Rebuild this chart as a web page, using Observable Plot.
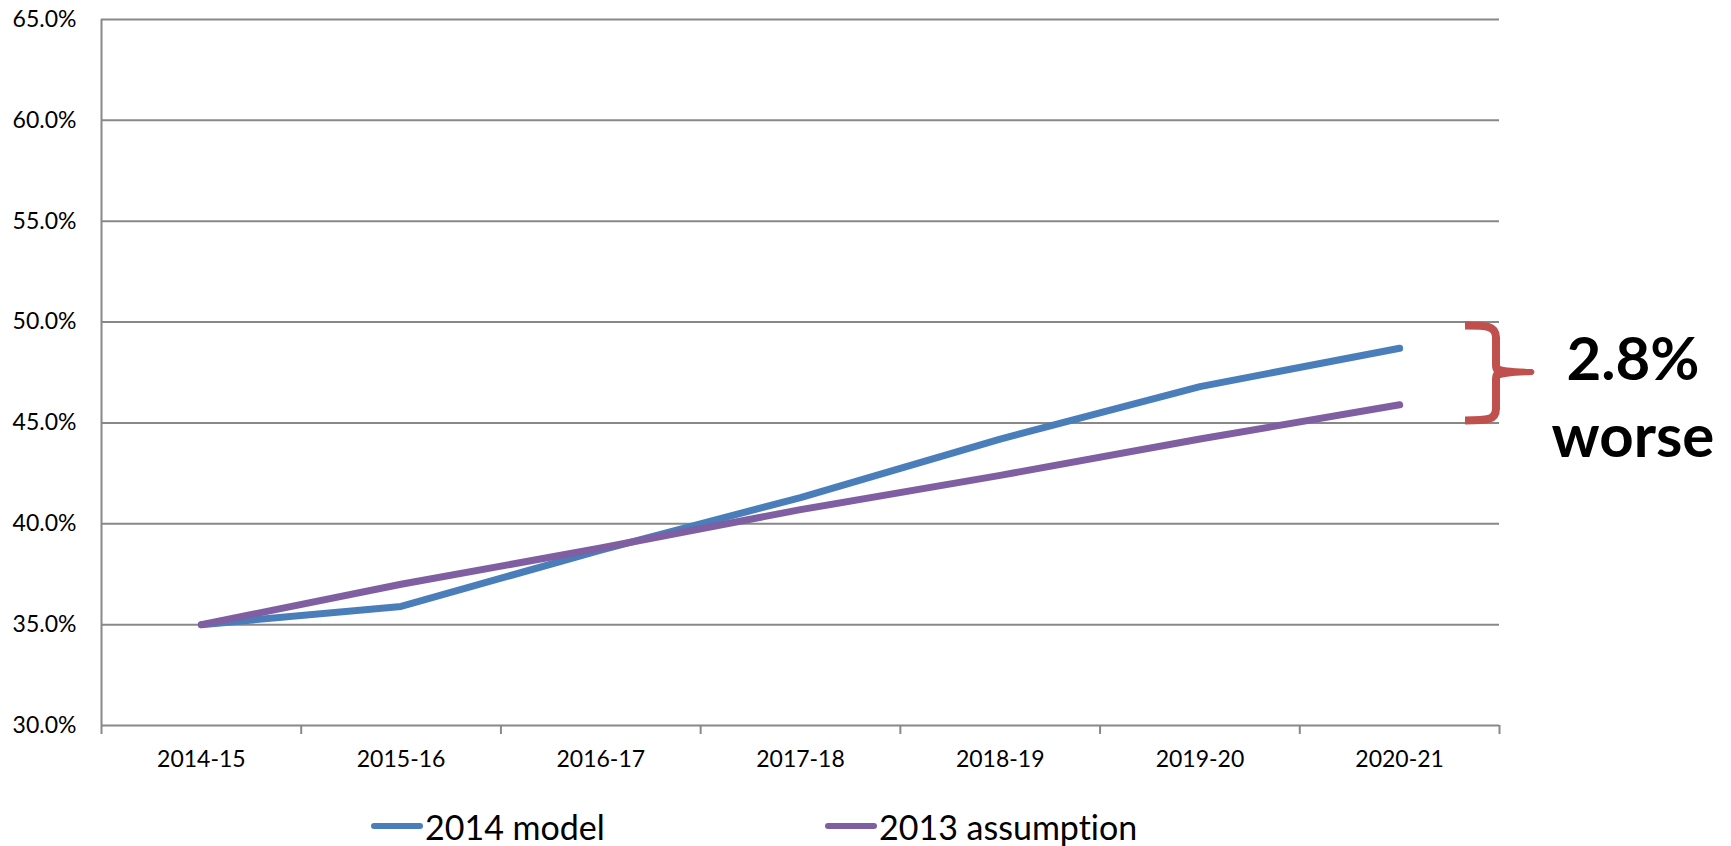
<!DOCTYPE html>
<html>
<head>
<meta charset="utf-8">
<script src="https://cdn.jsdelivr.net/npm/d3@7"></script>
<script src="https://cdn.jsdelivr.net/npm/@observablehq/plot@0.6"></script>
<style>
  html, body { margin: 0; padding: 0; background: #fff; overflow: hidden; }
  #chart { width: 1731px; }
  #legend { position: relative; width: 1731px; height: 56px; font-family: Lato, "Liberation Sans", sans-serif; font-size: 34px; color: #000; font-variant-ligatures: none; }
  .item { position: absolute; top: 8px; height: 56px; display: flex; align-items: center; }
  .swatch { width: 52px; height: 6px; border-radius: 3px; margin-right: 2px; }
</style>
</head>
<body>
<div id="chart"></div>
<div id="legend"></div>
<script>
// Financial years on the category axis
const categories = ["2014-15", "2015-16", "2016-17", "2017-18", "2018-19", "2019-20", "2020-21"];

// Share (%) for each projection
const model2014 = [35.0, 35.9, 38.7, 41.3, 44.2, 46.8, 48.7];
const assumption2013 = [35.0, 37.0, 38.8, 40.7, 42.4, 44.2, 45.9];

// Value axis ticks (%)
const yTicks = [30, 35, 40, 45, 50, 55, 60, 65];

// Series labels and colours
const seriesNames = ["2014 model", "2013 assumption"];
const seriesColors = ["#4A7EBB", "#7F5FA1"];

// Vertical extent (%) of the bracket that marks the gap
const braceSpan = [45, 50];
const braceColor = "#C0504D";

const n = categories.length;
const gridColor = "#888888";
const font = "Lato, 'Liberation Sans', sans-serif";

const rows = (values) => values.map((v, i) => ({i, v}));

// Right-hand bracket and the gap label next to it
function gapBrace(index, scales, values, dims) {
  const yTop = scales.y(braceSpan[1]);
  const yBot = scales.y(braceSpan[0]);
  const ym = (yTop + yBot) / 2;
  const xr = dims.width - dims.marginRight;
  const x0 = xr - 34, xs = xr - 3, xt = xr + 33;
  const t = yTop + 4, b = yBot - 2;
  const g = d3.create("svg:g");
  g.append("path")
    .attr("d", `M${x0},${t} C${x0 + 22},${t} ${xs},${t} ${xs},${t + 12} V${ym - 7} Q${xs},${ym} ${xs + 8},${ym} ` +
               `M${x0},${b} C${x0 + 22},${b} ${xs},${b} ${xs},${b - 12} V${ym + 7} Q${xs},${ym} ${xs + 8},${ym}`)
    .attr("fill", "none")
    .attr("stroke", braceColor)
    .attr("stroke-width", 8)
    .attr("stroke-linejoin", "round");
  g.append("path")
    .attr("d", `M${xs + 2},${ym - 6} Q${xs + 6},${ym - 3} ${xt},${ym - 2} Q${xt + 3},${ym} ${xt},${ym + 2} Q${xs + 6},${ym + 3} ${xs + 2},${ym + 6} Z`)
    .attr("fill", braceColor)
    .attr("stroke", braceColor)
    .attr("stroke-width", 2);
  const gap = model2014[n - 1] - assumption2013[n - 1];
  const text = g.append("text")
    .attr("text-anchor", "middle")
    .attr("font-family", font)
    .attr("font-weight", "bold")
    .attr("font-size", 60)
    .attr("fill", "#000");
  text.append("tspan").attr("x", xr + 134).attr("y", ym + 8).text(gap.toFixed(1) + "%");
  text.append("tspan").attr("x", xr + 134).attr("y", ym + 85).text("worse");
  return g.node();
}

const chart = Plot.plot({
  width: 1731,
  height: 790,
  marginLeft: 101,
  marginRight: 232,
  marginTop: 19,
  marginBottom: 65,
  style: {fontFamily: font, background: "#fff", color: "#000"},
  x: {domain: [-0.5, n - 0.5]},
  y: {domain: [yTicks[0], yTicks[yTicks.length - 1]]},
  marks: [
    Plot.gridY(yTicks, {stroke: gridColor, strokeOpacity: 1, strokeWidth: 2}),
    Plot.ruleX([-0.5], {stroke: gridColor, strokeWidth: 2}),
    Plot.axisY(yTicks, {
      label: null, tickSize: 0, tickPadding: 25, fontSize: 23,
      tickFormat: d => d.toFixed(1) + "%"
    }),
    Plot.axisX(d3.range(-0.5, n), {
      label: null, tickSize: 9, stroke: gridColor, strokeWidth: 2, tickFormat: () => ""
    }),
    Plot.axisX(d3.range(n), {
      label: null, tickSize: 0, tickPadding: 25, fontSize: 23,
      tickFormat: i => categories[i]
    }),
    Plot.line(rows(model2014), {
      x: "i", y: "v", stroke: seriesColors[0], strokeWidth: 7,
      strokeLinecap: "round", strokeLinejoin: "round"
    }),
    Plot.line(rows(assumption2013), {
      x: "i", y: "v", stroke: seriesColors[1], strokeWidth: 7,
      strokeLinecap: "round", strokeLinejoin: "round"
    }),
    gapBrace
  ]
});
document.getElementById("chart").append(chart);

// Legend beneath the chart
const legend = d3.select("#legend");
const legendLeft = [371, 825];
seriesNames.forEach((name, k) => {
  const item = legend.append("div").attr("class", "item").style("left", legendLeft[k] + "px");
  item.append("div").attr("class", "swatch").style("background", seriesColors[k]);
  item.append("span").text(name);
});
</script>
</body>
</html>
